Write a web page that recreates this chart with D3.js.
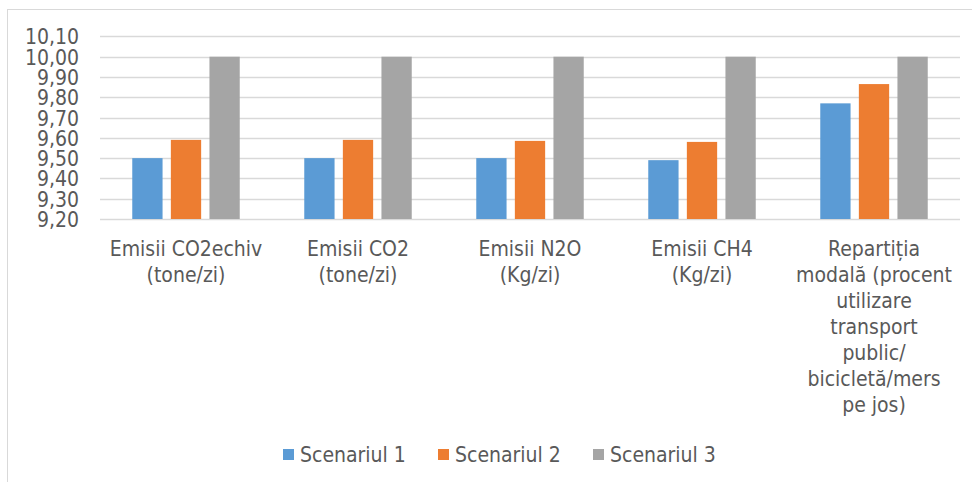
<!DOCTYPE html>
<html>
<head>
<meta charset="utf-8">
<script src="https://cdn.jsdelivr.net/npm/d3@7"></script>
<style>
  html, body { margin: 0; padding: 0; background: #fff; }
  svg { display: block; }
  text { font-family: "DejaVu Sans Condensed", "DejaVu Sans", sans-serif; fill: #595959; }
</style>
</head>
<body>
<svg id="chart" width="972" height="482"></svg>
<script>
// ---- data ----
const categories = [
  "Emisii CO2echiv\n(tone/zi)",
  "Emisii CO2\n(tone/zi)",
  "Emisii N2O\n(Kg/zi)",
  "Emisii CH4\n(Kg/zi)",
  "Repartiția\nmodală (procent\nutilizare\ntransport\npublic/\nbicicletă/mers\npe jos)"
];
const seriesNames = ["Scenariul 1", "Scenariul 2", "Scenariul 3"];
const scenariul1 = [9.50, 9.50, 9.50, 9.49, 9.77];
const scenariul2 = [9.59, 9.59, 9.585, 9.58, 9.865];
const scenariul3 = [10.00, 10.00, 10.00, 10.00, 10.00];
const yTicks = [9.20, 9.30, 9.40, 9.50, 9.60, 9.70, 9.80, 9.90, 10.00, 10.10];
const colors = ["#5B9BD5", "#ED7D31", "#A5A5A5"];

const seriesValues = [scenariul1, scenariul2, scenariul3];

const svg = d3.select("#chart");
const fontSize = 21;

// chart border
svg.append("rect")
  .attr("x", 7.5).attr("y", 9.5)
  .attr("width", 1000).attr("height", 1000)
  .attr("fill", "none").attr("stroke", "#D9D9D9").attr("stroke-width", 1);

const x0 = d3.scaleBand().domain(d3.range(categories.length)).range([100, 960]).padding(0);
const x1 = d3.scaleBand().domain(d3.range(seriesNames.length))
  .range([0, x0.bandwidth()]).paddingInner(0.215).paddingOuter(0.836);
const y = d3.scaleLinear().domain([9.2, 10.1]).range([219, 36.4]);

const fmt = v => d3.format(".2f")(v).replace(".", ",");

// gridlines
svg.append("g").selectAll("line").data(yTicks).join("line")
  .attr("x1", 100).attr("x2", 960)
  .attr("y1", d => Math.round(y(d)) + 0.5).attr("y2", d => Math.round(y(d)) + 0.5)
  .attr("stroke", "#D9D9D9").attr("stroke-width", 1.3);

// y axis labels via d3 axis
const yAxis = d3.axisLeft(y).tickValues(yTicks).tickFormat(fmt).tickSize(0).tickPadding(0);
const yg = svg.append("g").attr("transform", "translate(79,0)").call(yAxis);
yg.select(".domain").remove();
yg.selectAll("text")
  .attr("font-family", null)
  .style("font-size", fontSize + "px")
  .attr("fill", "#595959")
  .attr("dy", "0.36em");

// bars
const groups = svg.append("g").selectAll("g").data(categories).join("g")
  .attr("transform", (d, i) => `translate(${x0(i)},0)`);
groups.selectAll("rect")
  .data((d, i) => seriesValues.map((s, k) => ({ k, v: s[i] })))
  .join("rect")
  .attr("x", d => x1(d.k))
  .attr("width", x1.bandwidth())
  .attr("y", d => y(d.v))
  .attr("height", d => y(9.2) - y(d.v))
  .attr("fill", d => colors[d.k]);

// category labels
const catG = svg.append("g");
categories.forEach((c, i) => {
  const lines = c.split("\n");
  const t = catG.append("text")
    .attr("text-anchor", "middle")
    .style("font-size", fontSize + "px");
  lines.forEach((ln, j) => {
    t.append("tspan")
      .attr("x", x0(i) + x0.bandwidth() / 2)
      .attr("y", 256 + j * 26)
      .text(ln);
  });
});

// legend
const legendX = [283, 438, 593];
const lg = svg.append("g");
seriesNames.forEach((n, k) => {
  lg.append("rect")
    .attr("x", legendX[k]).attr("y", 449)
    .attr("width", 11).attr("height", 11)
    .attr("fill", colors[k]);
  lg.append("text")
    .attr("x", legendX[k] + 17).attr("y", 462)
    .style("font-size", fontSize + "px")
    .text(n);
});
</script>
</body>
</html>
